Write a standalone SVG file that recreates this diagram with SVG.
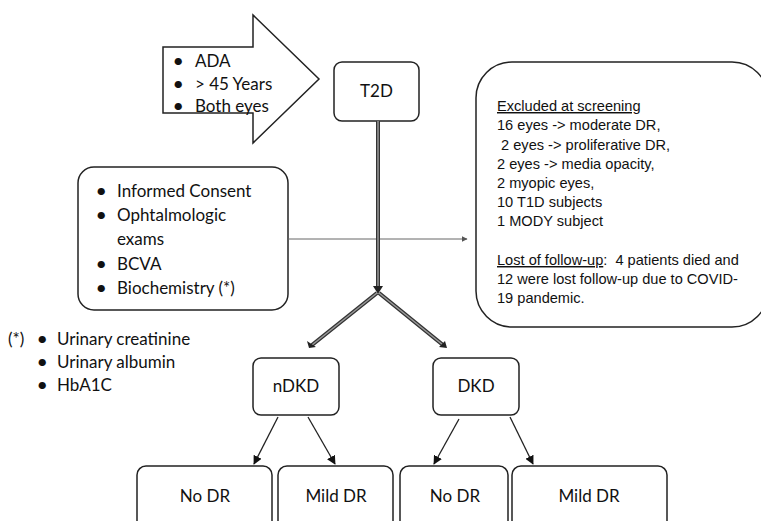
<svg xmlns="http://www.w3.org/2000/svg" width="761" height="521" viewBox="0 0 761 521">
<defs>
<style>
.box{fill:#fff;stroke:#222;stroke-width:1.5}
.cal{font-family:Lato,"Open Sans",sans-serif;font-size:17px;fill:#111}
.lst{font-family:Lato,"Open Sans",sans-serif;font-size:17px;fill:#111}
.bul{font-family:Lato,"Open Sans",sans-serif;font-size:18px;font-weight:600;fill:#111}
.ar{font-family:"Liberation Sans",Arial,sans-serif;font-size:14.6px;fill:#111}
.thin{stroke:#222;stroke-width:1.3;fill:none}
.dbl-o{stroke:#333;stroke-width:4;fill:none}
.dbl-i{stroke:#999;stroke-width:1.5;fill:none}
</style>
<marker id="ah" viewBox="0 0 10 10" refX="9" refY="5" markerWidth="9" markerHeight="9" markerUnits="userSpaceOnUse" orient="auto"><path d="M0,0 L10,5 L0,10 z" fill="#111"/></marker>
<marker id="ahs" viewBox="0 0 10 10" refX="9" refY="5" markerWidth="6" markerHeight="6" markerUnits="userSpaceOnUse" orient="auto"><path d="M0,0 L10,5 L0,10 z" fill="#555"/></marker>
</defs>
<rect width="761" height="521" fill="#fff"/>

<g id="criteria">
<path class="box" d="M163,47 L253,47 L253,15 L319,79 L253,143 L253,113 L163,113 z"/>
<text class="bul" x="173" y="67">•</text><text class="lst" x="195" y="67">ADA</text>
<text class="bul" x="173" y="90">•</text><text class="lst" x="195" y="90">&gt; 45 Years</text>
<text class="bul" x="173" y="112">•</text><text class="lst" x="195" y="112">Both eyes</text>
</g>

<g id="t2d">
<rect class="box" x="334" y="62" width="85" height="59" rx="8"/>
<text class="cal" x="376.5" y="97" text-anchor="middle">T2D</text>
</g>

<g id="exams">
<rect class="box" x="78" y="167" width="210" height="143" rx="16"/>
<text class="bul" x="96" y="197">•</text><text class="lst" x="117" y="197">Informed Consent</text>
<text class="bul" x="96" y="221">•</text><text class="lst" x="117" y="221">Ophtalmologic</text>
<text class="lst" x="117" y="245">exams</text>
<text class="bul" x="96" y="270">•</text><text class="lst" x="117" y="270">BCVA</text>
<text class="bul" x="96" y="294">•</text><text class="lst" x="117" y="294">Biochemistry (*)</text>
</g>

<g id="excluded">
<rect class="box" x="476" y="62" width="292" height="265" rx="36"/>
<text class="ar" x="497" y="111" text-decoration="underline">Excluded at screening</text>
<text class="ar" x="497" y="130">16 eyes -&gt; moderate DR,</text>
<text class="ar" x="497" y="150" xml:space="preserve"> 2 eyes -&gt; proliferative DR,</text>
<text class="ar" x="497" y="169">2 eyes -&gt; media opacity,</text>
<text class="ar" x="497" y="188">2 myopic eyes,</text>
<text class="ar" x="497" y="207">10 T1D subjects</text>
<text class="ar" x="497" y="226">1 MODY subject</text>
<text class="ar" x="497" y="265" xml:space="preserve"><tspan text-decoration="underline">Lost of follow-up</tspan>:  4 patients died and</text>
<text class="ar" x="497" y="284">12 were lost follow-up due to COVID-</text>
<text class="ar" x="497" y="303">19 pandemic.</text>
</g>

<g id="legend">
<text class="lst" x="8" y="345">(*)</text>
<text class="bul" x="37" y="345">•</text><text class="lst" x="57" y="345">Urinary creatinine</text>
<text class="bul" x="37" y="368">•</text><text class="lst" x="57" y="368">Urinary albumin</text>
<text class="bul" x="37" y="391">•</text><text class="lst" x="57" y="391">HbA1C</text>
</g>

<g id="ndkd">
<rect class="box" x="253" y="358" width="86" height="57" rx="8"/>
<text class="cal" x="296" y="392" text-anchor="middle">nDKD</text>
</g>
<g id="dkd">
<rect class="box" x="433" y="358" width="86" height="57" rx="8"/>
<text class="cal" x="476" y="392" text-anchor="middle">DKD</text>
</g>

<g id="nodr1">
<rect class="box" x="137" y="466" width="135" height="65" rx="9"/>
<text class="cal" x="205" y="502" text-anchor="middle">No DR</text>
</g>
<g id="milddr1">
<rect class="box" x="278" y="466" width="115" height="65" rx="9"/>
<text class="cal" x="336" y="502" text-anchor="middle">Mild DR</text>
</g>
<g id="nodr2">
<rect class="box" x="400" y="466" width="108" height="65" rx="9"/>
<text class="cal" x="455" y="502" text-anchor="middle">No DR</text>
</g>
<g id="milddr2">
<rect class="box" x="512" y="466" width="155" height="65" rx="9"/>
<text class="cal" x="589" y="502" text-anchor="middle">Mild DR</text>
</g>

<g id="connectors">
<line x1="288" y1="239" x2="467" y2="239" stroke="#666" stroke-width="1" marker-end="url(#ahs)"/>
<path class="dbl-o" d="M378,121 L378,290 M377,293 L312,345 M379,293 L443,345"/>
<path class="dbl-i" d="M378,121 L378,290 M377,293 L312,345 M379,293 L443,345"/>
<path d="M373,286 L378,294 L383,286 z M307,341 L309,348 L316,347 z M439,347 L447,348 L445,341 z" fill="#222"/>
<line class="thin" x1="278" y1="417" x2="254" y2="464" marker-end="url(#ah)"/>
<line class="thin" x1="308" y1="417" x2="335" y2="464" marker-end="url(#ah)"/>
<line class="thin" x1="459" y1="419" x2="434" y2="464" marker-end="url(#ah)"/>
<line class="thin" x1="510" y1="417" x2="533" y2="464" marker-end="url(#ah)"/>
</g>
</svg>
